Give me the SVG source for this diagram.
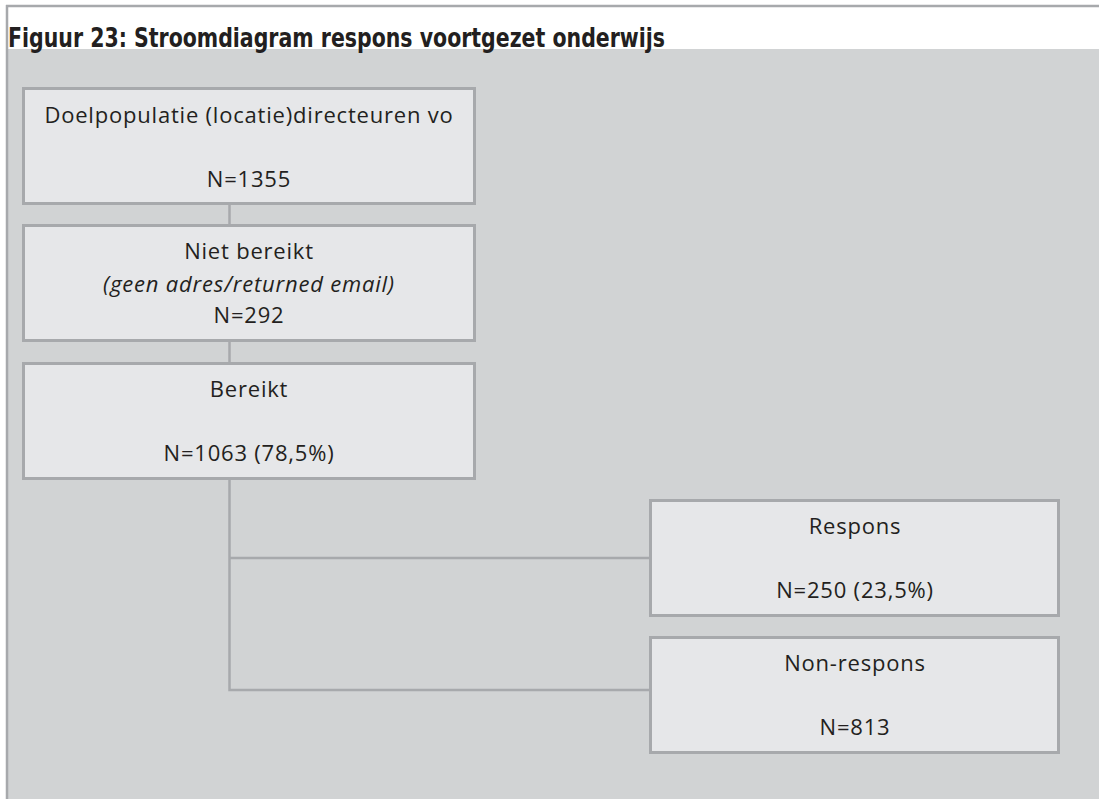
<svg xmlns="http://www.w3.org/2000/svg" width="1099" height="799" viewBox="0 0 1099 799">
<style>
.box{fill:#e6e7e9;stroke:#a7a9ac;stroke-width:3}
.con{stroke:#a7a9ac;stroke-width:2.5;fill:none}
.t{font-family:"Open Sans","DejaVu Sans",sans-serif;font-size:22px;fill:#231f20;text-anchor:middle;letter-spacing:0.8px}
.i{font-style:italic}
.title{font-family:"DejaVu Sans Condensed","DejaVu Sans",sans-serif;font-weight:bold;font-size:26px;fill:#231f20}
</style>
<rect x="0" y="0" width="1099" height="799" fill="#ffffff"/>
<rect x="8" y="49" width="1091" height="750" fill="#d1d3d4"/>
<line x1="6" y1="6" x2="1099" y2="6" stroke="#a7a9ac" stroke-width="2.5"/>
<line x1="7" y1="5" x2="7" y2="799" stroke="#a7a9ac" stroke-width="2.5"/>
<text class="title" x="8" y="47" textLength="657" lengthAdjust="spacingAndGlyphs">Figuur 23: Stroomdiagram respons voortgezet onderwijs</text>
<g id="connectors">
<line class="con" x1="229.5" y1="203" x2="229.5" y2="225"/>
<line class="con" x1="229.5" y1="340" x2="229.5" y2="363"/>
<polyline class="con" points="229.5,478 229.5,690 651,690"/>
<line class="con" x1="229.5" y1="558" x2="653" y2="558"/>
</g>
<g id="n1">
<rect class="box" x="23.5" y="88.5" width="451" height="115"/>
<text class="t" x="249" y="123">Doelpopulatie (locatie)directeuren vo</text>
<text class="t" x="249" y="187">N=1355</text>
</g>
<g id="n2">
<rect class="box" x="23.5" y="225.5" width="451" height="115"/>
<text class="t" x="249" y="259">Niet bereikt</text>
<text class="t i" x="249" y="292">(geen adres/returned email)</text>
<text class="t" x="249" y="323">N=292</text>
</g>
<g id="n3">
<rect class="box" x="23.5" y="363.5" width="451" height="115"/>
<text class="t" x="249" y="397">Bereikt</text>
<text class="t" x="249" y="461">N=1063 (78,5%)</text>
</g>
<g id="n4">
<rect class="box" x="650.5" y="500.5" width="408" height="115"/>
<text class="t" x="855" y="534">Respons</text>
<text class="t" x="855" y="598">N=250 (23,5%)</text>
</g>
<g id="n5">
<rect class="box" x="650.5" y="637.5" width="408" height="115"/>
<text class="t" x="855" y="671">Non-respons</text>
<text class="t" x="855" y="735">N=813</text>
</g>
</svg>
